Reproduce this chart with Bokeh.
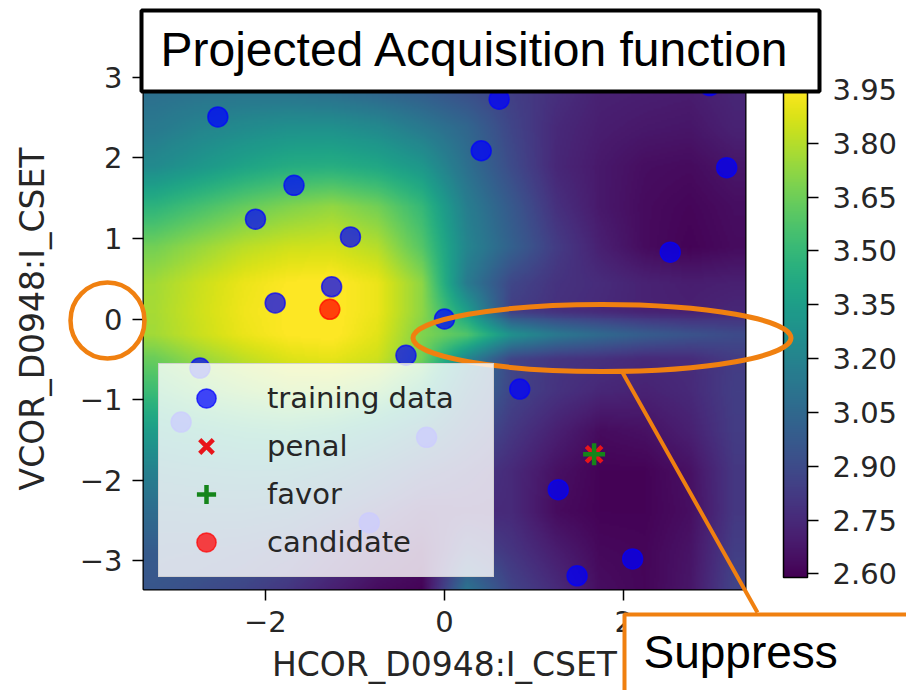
import numpy as np
from bokeh.plotting import figure
from bokeh.models import (LinearColorMapper, ColorBar, FixedTicker, PrintfTickFormatter,
                          Legend, LegendItem, Range1d)
from bokeh.core.properties import value
from bokeh.palettes import Viridis256
from bokeh.embed import file_html
from bokeh.resources import INLINE

# Acquisition surface sampled on a grid (rows listed top to bottom, denser around y = 0)
grid_x = [-3.25, -2.75, -2.25, -1.75, -1.25, -0.75, -0.25, 0.25, 0.75, 1.25, 1.75, 2.25, 2.75, 3.25]
grid_y = [3.4, 2.9, 2.4, 1.9, 1.4, 0.9, 0.45, 0.1, -0.2, -0.5, -0.9, -1.4, -1.9, -2.4, -2.9, -3.4]
acq_rows = [
    [3.04, 3.04, 3.04, 3.01, 2.99, 2.95, 2.90, 2.87, 2.80, 2.75, 2.72, 2.71, 2.71, 2.74],
    [3.08, 3.09, 3.09, 3.08, 3.05, 3.01, 2.97, 2.90, 2.84, 2.78, 2.72, 2.71, 2.70, 2.74],
    [3.14, 3.20, 3.24, 3.27, 3.27, 3.23, 3.14, 3.04, 2.87, 2.75, 2.70, 2.68, 2.67, 2.72],
    [3.24, 3.31, 3.38, 3.43, 3.44, 3.40, 3.31, 3.09, 2.90, 2.74, 2.68, 2.64, 2.63, 2.67],
    [3.47, 3.55, 3.63, 3.69, 3.73, 3.66, 3.50, 3.17, 2.97, 2.78, 2.68, 2.63, 2.61, 2.64],
    [3.66, 3.74, 3.81, 3.85, 3.86, 3.80, 3.59, 3.21, 3.01, 2.83, 2.71, 2.63, 2.60, 2.63],
    [3.76, 3.84, 3.91, 3.95, 3.96, 3.91, 3.72, 3.15, 2.88, 2.79, 2.76, 2.72, 2.70, 2.71],
    [3.77, 3.85, 3.92, 3.95, 3.96, 3.91, 3.72, 3.35, 2.84, 2.78, 2.75, 2.72, 2.71, 2.74],
    [3.76, 3.84, 3.91, 3.95, 3.96, 3.89, 3.69, 3.58, 3.28, 3.14, 3.06, 2.99, 2.94, 2.90],
    [3.64, 3.74, 3.82, 3.88, 3.90, 3.85, 3.66, 3.21, 2.87, 2.80, 2.78, 2.75, 2.76, 2.83],
    [3.52, 3.62, 3.69, 3.75, 3.74, 3.66, 3.46, 3.09, 2.87, 2.79, 2.74, 2.72, 2.75, 2.84],
    [3.34, 3.39, 3.44, 3.46, 3.41, 3.30, 3.15, 2.96, 2.81, 2.71, 2.63, 2.65, 2.71, 2.83],
    [3.18, 3.21, 3.23, 3.22, 3.15, 3.04, 2.91, 2.83, 2.75, 2.65, 2.60, 2.60, 2.65, 2.81],
    [3.07, 3.08, 3.08, 3.05, 2.96, 2.85, 2.74, 2.76, 2.75, 2.63, 2.60, 2.60, 2.64, 2.81],
    [2.98, 2.97, 2.94, 2.89, 2.79, 2.70, 2.64, 2.90, 2.80, 2.70, 2.62, 2.61, 2.66, 2.84],
    [2.95, 2.91, 2.87, 2.80, 2.71, 2.63, 2.60, 3.12, 2.87, 2.76, 2.64, 2.61, 2.67, 2.87],
]

# Evaluated points
train_x = [-2.53, 0.61, 0.41, -1.68, -2.11, -1.05, -1.26, -1.89, 0.00, -0.43, 0.84,
           -2.73, -2.94, -0.20, -0.84, 1.27, 2.10, 1.48, 2.52, 3.15, 2.96]
train_y = [2.51, 2.73, 2.09, 1.66, 1.24, 1.02, 0.40, 0.20, 0.00, -0.45, -0.87,
           -0.61, -1.28, -1.47, -2.53, -2.12, -2.98, -3.19, 0.83, 1.88, 2.90]
penal_x, penal_y = [1.67], [-1.68]
favor_x, favor_y = [1.67], [-1.68]
cand_x, cand_y = [-1.28], [0.12]

x_ticks = [-2, 0, 2]
y_ticks = [-3, -2, -1, 0, 1, 2, 3]
cbar_ticks = [2.60, 2.75, 2.90, 3.05, 3.20, 3.35, 3.50, 3.65, 3.80, 3.95]
cbar_low, cbar_high = 2.59, 3.95
x_lim = (-3.36, 3.36)
y_lim = (-3.36, 3.36)

ORANGE = "#F08010"
TXT = "#262626"
FRAME_L, FRAME_R, FRAME_T, FRAME_B = 143, 745, 48, 589


def resample(rows, gx, gy, nx, ny, xr, yr):
    """Bilinear display resampling of the sampled surface (returns rows bottom to top)."""
    arr = np.array(rows, dtype=float)[::-1]
    gy_up = np.array(gy, dtype=float)[::-1]
    fx = np.linspace(xr[0], xr[1], nx)
    fy = np.linspace(yr[0], yr[1], ny)
    along_x = np.array([np.interp(fx, gx, r) for r in arr])
    return np.array([np.interp(fy, gy_up, along_x[:, j]) for j in range(nx)]).T


p = figure(frame_width=FRAME_R - FRAME_L, frame_height=FRAME_B - FRAME_T,
           x_range=x_lim, y_range=y_lim,
           output_backend="svg", toolbar_location=None,
           min_border_left=FRAME_L, min_border_right=906 - FRAME_R,
           min_border_top=FRAME_T, min_border_bottom=690 - FRAME_B)
# pixel-based ranges for the callout shapes (y grows downwards)
p.extra_x_ranges = {"px": Range1d(FRAME_L, FRAME_R)}
p.extra_y_ranges = {"py": Range1d(FRAME_B, FRAME_T)}
p.xgrid.grid_line_color = None
p.ygrid.grid_line_color = None
p.outline_line_color = "black"
p.outline_line_width = 2
p.background_fill_color = "white"
p.border_fill_color = "white"

mapper = LinearColorMapper(palette=Viridis256, low=cbar_low, high=cbar_high)
surface = resample(acq_rows, grid_x, grid_y, 302, 272, x_lim, y_lim)
p.image(image=[surface], x=x_lim[0], y=y_lim[0], dw=x_lim[1] - x_lim[0], dh=y_lim[1] - y_lim[0],
        color_mapper=mapper)

r_train = p.scatter(train_x, train_y, marker="circle", size=20, fill_color="#0000ff", fill_alpha=0.72,
                    line_color="#0000ff", line_alpha=0.72, line_width=1.5)
r_penal = p.scatter(penal_x, penal_y, marker="x", size=22, line_color="#e8141a", line_width=4.5)
r_favor = p.scatter(favor_x, favor_y, marker="cross", size=22, line_color="#15851a", line_width=4.5)
r_cand = p.scatter(cand_x, cand_y, marker="circle", size=20, fill_color="#ff0000", fill_alpha=0.72,
                   line_color="#ff0000", line_alpha=0.72, line_width=1.5)

for ax, ticks in ((p.xaxis[0], x_ticks), (p.yaxis[0], y_ticks)):
    ax.ticker = FixedTicker(ticks=ticks)
    ax.major_label_overrides = {t: (str(t) if t >= 0 else "\u2212" + str(-t)) for t in ticks}
    ax.major_label_text_font = "DejaVu Sans"
    ax.major_label_text_font_size = "29px"
    ax.major_label_text_color = TXT
    ax.major_tick_in = 0
    ax.major_tick_out = 11
    ax.major_tick_line_width = 1.5
    ax.minor_tick_in = 0
    ax.minor_tick_out = 0
    ax.axis_line_color = None
    ax.axis_label_text_font = "DejaVu Sans"
    ax.axis_label_text_font_size = "33px"
    ax.axis_label_text_font_style = "normal"
    ax.axis_label_text_color = TXT
p.xaxis.axis_label = "HCOR_D0948:I_CSET"
p.yaxis.axis_label = "VCOR_D0948:I_CSET"
p.xaxis.major_label_standoff = 10
p.xaxis.axis_label_standoff = 10
p.yaxis.major_label_standoff = 10
p.yaxis.axis_label_standoff = 25

cbar = ColorBar(color_mapper=mapper, ticker=FixedTicker(ticks=cbar_ticks),
                formatter=PrintfTickFormatter(format="%.2f"),
                width=24, height=488, padding=0, margin=0, location=(640, 12),
                major_tick_in=0, major_tick_out=11, major_tick_line_color="black", major_tick_line_width=1.5,
                minor_tick_line_color=None,
                bar_line_color="black", bar_line_width=1.5, label_standoff=14,
                major_label_text_font="DejaVu Sans", major_label_text_font_size="29px",
                major_label_text_color=TXT, background_fill_alpha=0, border_line_color=None)
p.add_layout(cbar, "center")

legend = Legend(items=[LegendItem(label="training data", renderers=[r_train]),
                       LegendItem(label="penal", renderers=[r_penal]),
                       LegendItem(label="favor", renderers=[r_favor]),
                       LegendItem(label="candidate", renderers=[r_cand])],
                location=(15, 12), orientation="vertical", padding=10, margin=0, spacing=0,
                glyph_width=74, glyph_height=48, label_height=48, label_width=216, label_standoff=24,
                label_text_font="DejaVu Sans", label_text_font_size="29px", label_text_color=TXT,
                background_fill_color="white", background_fill_alpha=0.8,
                border_line_color="#cccccc", border_line_alpha=0.8, border_line_width=1.5)
p.add_layout(legend, "center")

# callout shapes, drawn on top of everything in pixel coordinates
px = dict(x_range_name="px", y_range_name="py", level="overlay")
p.ellipse(x=[601.5], y=[337.5], width=[378], height=[67], fill_color=None,
          line_color=ORANGE, line_width=5, **px)
p.segment(x0=[622], y0=[372], x1=[757], y1=[612], line_color=ORANGE, line_width=4, **px)
p.quad(left=[624], right=[940], top=[614], bottom=[730], fill_color="white",
       line_color=ORANGE, line_width=4, **px)
p.text(x=[643], y=[651], text=["Suppress"], text_baseline="alphabetic",
       text_font=value("Liberation Sans"), text_font_size="46px", text_color="black", **px)
p.ellipse(x=[107], y=[320], width=[74], height=[76], fill_color=None,
          line_color=ORANGE, line_width=4.5, **px)

# title box
p.quad(left=[141], right=[819], top=[10], bottom=[91], fill_color="white",
       line_color="black", line_width=4, **px)
p.text(x=[160], y=[49], text=["Projected Acquisition function"], text_baseline="alphabetic",
       text_font=value("Liberation Sans"), text_font_size="48px", text_color="black", **px)

open("out.html", "w").write(file_html(p, INLINE))
